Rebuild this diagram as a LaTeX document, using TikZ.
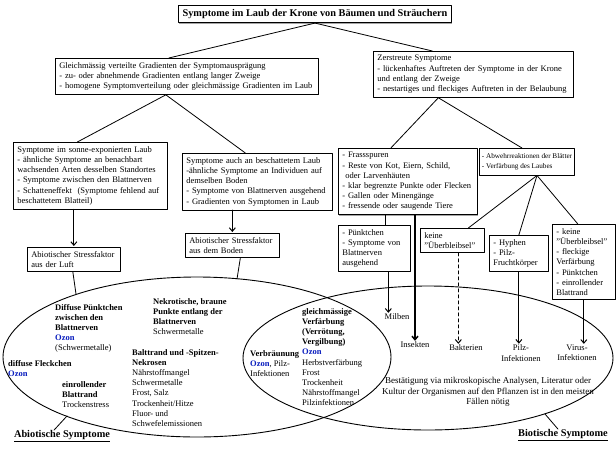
\documentclass[tikz,border=0pt]{standalone}
\usepackage{fontspec}
\setmainfont{Liberation Serif}
\usetikzlibrary{arrows.meta,shadows,calc}
\definecolor{ozonblue}{RGB}{10,30,190}
\newcommand\ozon{\textcolor{ozonblue}{\textbf{Ozon}}}

\begin{document}
\begin{tikzpicture}[x=1pt, y=-1pt, font=\fontsize{8.5}{10.2}\selectfont, line join=round, line cap=round,
    >={Straight Barb[length=3.5pt,width=6pt]},
    box/.style={draw, line width=0.7pt, fill=white, anchor=north west, inner xsep=4pt, inner ysep=4pt, align=left,
        drop shadow={shadow xshift=0.8pt, shadow yshift=-0.8pt, fill=black!70}},
    txt/.style={anchor=north west, inner sep=0pt, align=left},
    lbl/.style={inner sep=0pt, align=center},
    con/.style={line width=0.8pt},
    arr/.style={->, line width=1pt, shorten >=1pt},
    ell/.style={line width=0.9pt}]
    \useasboundingbox (0,0) rectangle (616,448);
    % Venn-Ellipsen
    \draw[ell] (197,357) ellipse [x radius=194pt, y radius=80pt];
    \draw[ell] (428,358) ellipse [x radius=185pt, y radius=72pt];
    \coordinate (abioluft) at (76,294);
    \coordinate (abioboden) at (237,279);
    \coordinate (abioedge) at (67,416);
    \coordinate (bioedge) at (545,414);
    % Kaesten
    \node[box, anchor=north, font=\fontsize{10.3}{12}\selectfont\bfseries] (title) at (315,5) {Symptome im Laub der Krone von Bäumen und Sträuchern};
    \node[box, text width=255pt] (gleich) at (55,58) {Gleichmässig verteilte Gradienten der Symptomausprägung\\- zu- oder abnehmende Gradienten entlang langer Zweige\\- homogene Symptomverteilung oder gleichmässige Gradienten im Laub};
    \node[box, text width=192pt] (zer) at (373,51) {Zerstreute Symptome\\- lückenhaftes Auftreten der Symptome in der Krone\\und entlang der Zweige\\- nestartiges und fleckiges Auftreten in der Belaubung};
    \node[box, text width=146pt] (sonne) at (13,142) {Symptome im sonne-exponierten Laub\\- ähnliche Symptome an benachbart\\wachsenden Arten desselben Standortes\\- Symptome zwischen den Blattnerven\\- Schatteneffekt~ (Symptome fehlend auf\\beschattetem Blatteil)};
    \node[box, text width=142pt] (auch) at (182,153) {Symptome auch an beschattetem Laub\\-ähnliche Symptome an Individuen auf\\demselben Boden\\- Symptome von Blattnerven ausgehend\\- Gradienten von Symptomen in Laub};
    \node[box, text width=85pt] (luft) at (27,247) {Abiotischer Stressfaktor\\aus der Luft};
    \node[box, text width=86pt] (boden) at (185,233) {Abiotischer Stressfaktor\\aus dem Boden};
    \node[box, text width=131pt] (frass) at (338,148) {- Frassspuren\\- Reste von Kot, Eiern, Schild,\\\hspace*{3pt}oder Larvenhäuten\\- klar begrenzte Punkte oder Flecken\\- Gallen oder Minengänge\\- fressende oder saugende Tiere};
    \node[box, anchor=north, inner xsep=2.5pt, inner ysep=5pt, font=\fontsize{7.2}{10.2}\selectfont] (abwehr) at (527,148) {- Abwehrreaktionen der Blätter\\- Verfärbung des Laubes};
    \node[box, text width=64pt] (pkt) at (338,225) {- Pünktchen\\- Symptome von\\Blattnerven\\ausgehend};
    \node[box, text width=56pt] (keine) at (420,228) {keine\\"Überbleibsel"};
    \node[box, text width=51pt] (hyph) at (489,235) {- Hyphen\\- Pilz-\\Fruchtkörper};
    \node[box, text width=55pt] (keine2) at (552,224) {- keine\\"Überbleibsel"\\- fleckige\\Verfärbung\\- Pünktchen\\- einrollender\\Blattrand};
    % Erreger
    \node[lbl] (milben) at (397,317) {Milben};
    \node[lbl] (insekten) at (415,345) {Insekten};
    \node[lbl] (bakt) at (466,348) {Bakterien};
    \node[lbl] (pilz) at (521,353) {Pilz-\\Infektionen};
    \node[lbl] (virus) at (577,353) {Virus-\\Infektionen};
    % Texte in den Ellipsen
    \node[txt] (diffpkt) at (55,304) {\textbf{Diffuse Pünktchen}\\\textbf{zwischen den}\\\textbf{Blattnerven}\\\ozon\\(Schwermetalle)};
    \node[txt] (diffleck) at (8,360) {\textbf{diffuse Fleckchen}\\\ozon};
    \node[txt] (einroll) at (62,381) {\textbf{einrollender}\\\textbf{Blattrand}\\Trockenstress};
    \node[txt] (nekro) at (153,298) {\textbf{Nekrotische, braune}\\\textbf{Punkte entlang der}\\\textbf{Blattnerven}\\Schwermetalle};
    \node[txt] (balt) at (132,349) {\textbf{Balttrand und -Spitzen-}\\\textbf{Nekrosen}\\Nährstoffmangel\\Schwermetalle\\Frost, Salz\\Trockenheit/Hitze\\Fluor- und\\Schwefelemissionen};
    \node[txt] (gleichv) at (302,308) {\textbf{gleichmässige}\\\textbf{Verfärbung}\\\textbf{(Verrötung,}\\\textbf{Vergilbung)}\\\ozon\\Herbstverfärbung\\Frost\\Trockenheit\\Nährstoffmangel\\Pilzinfektionen};
    \node[txt] (verbr) at (250,350) {\textbf{Verbräunung}\\\ozon, Pilz-\\Infektionen};
    \node[lbl, font=\fontsize{9}{10.2}\selectfont] (bestaet) at (488,392) {Bestätigung via mikroskopische Analysen, Literatur oder\\Kultur der Organismen auf den Pflanzen ist in den meisten\\Fällen nötig};
    \node[lbl, font=\fontsize{10.3}{12}\selectfont\bfseries] (abiolbl) at (62,436) {\underline{Abiotische Symptome}};
    \node[lbl, font=\fontsize{10.3}{12}\selectfont\bfseries] (biolbl) at (563,435) {\underline{Biotische Symptome}};
    % Verbindungen
    \draw[con] (title.south) -- ($(gleich.north)+(-18,0)$);
    \draw[con] (title.south) -- ($(zer.north)+(-41,0)$);
    \draw[con] ($(gleich.south)+(-21,0)$) -- ($(sonne.north)+(-13,0)$);
    \draw[con] ($(gleich.south)+(-21,0)$) -- ($(auch.north)+(-12,0)$);
    \draw[arr] (luft.north |- sonne.south) -- (luft.north);
    \draw[arr] (boden.north |- auch.south) -- (boden.north);
    \draw[con] ($(luft.south)+(-1,0)$) -- (abioluft);
    \draw[con] ($(boden.south)+(8,0)$) -- (abioboden);
    \draw[con] ($(zer.south)+(-35,0)$) -- ($(frass.north)+(-17,0)$);
    \draw[con] ($(zer.south)+(-35,0)$) -- ($(abwehr.north)+(-5,0)$);
    \coordinate (pktin) at ($(pkt.north)+(11,0)$);
    \draw[con] (pktin) -- (pktin |- frass.south);
    \coordinate (milbout) at ($(pkt.south)+(14,0)$);
    \draw[arr] (milbout) -- (milbout |- milben.north);
    \draw[arr, line width=1.5pt] (insekten.north |- frass.south) -- (insekten.north);
    \draw[con] ($(abwehr.south)+(10,0)$) -- ($(keine.north)+(16,0)$);
    \draw[con] ($(abwehr.south)+(10,0)$) -- (hyph.north);
    \draw[con] ($(abwehr.south)+(10,0)$) -- ($(keine2.north)+(-6,0)$);
    \coordinate (baktout) at ($(keine.south)+(6,0)$);
    \draw[arr, dashed] (baktout) -- (baktout |- bakt.north);
    \draw[arr] (hyph.south) -- (hyph.south |- pilz.north);
    \draw[arr] (keine2.south) -- (keine2.south |- virus.north);
    \draw[con] ($(abiolbl.north)+(-8,0)$) -- (abioedge);
    \draw[con] ($(biolbl.north)+(-5,0)$) -- (bioedge);
\end{tikzpicture}
\end{document}
